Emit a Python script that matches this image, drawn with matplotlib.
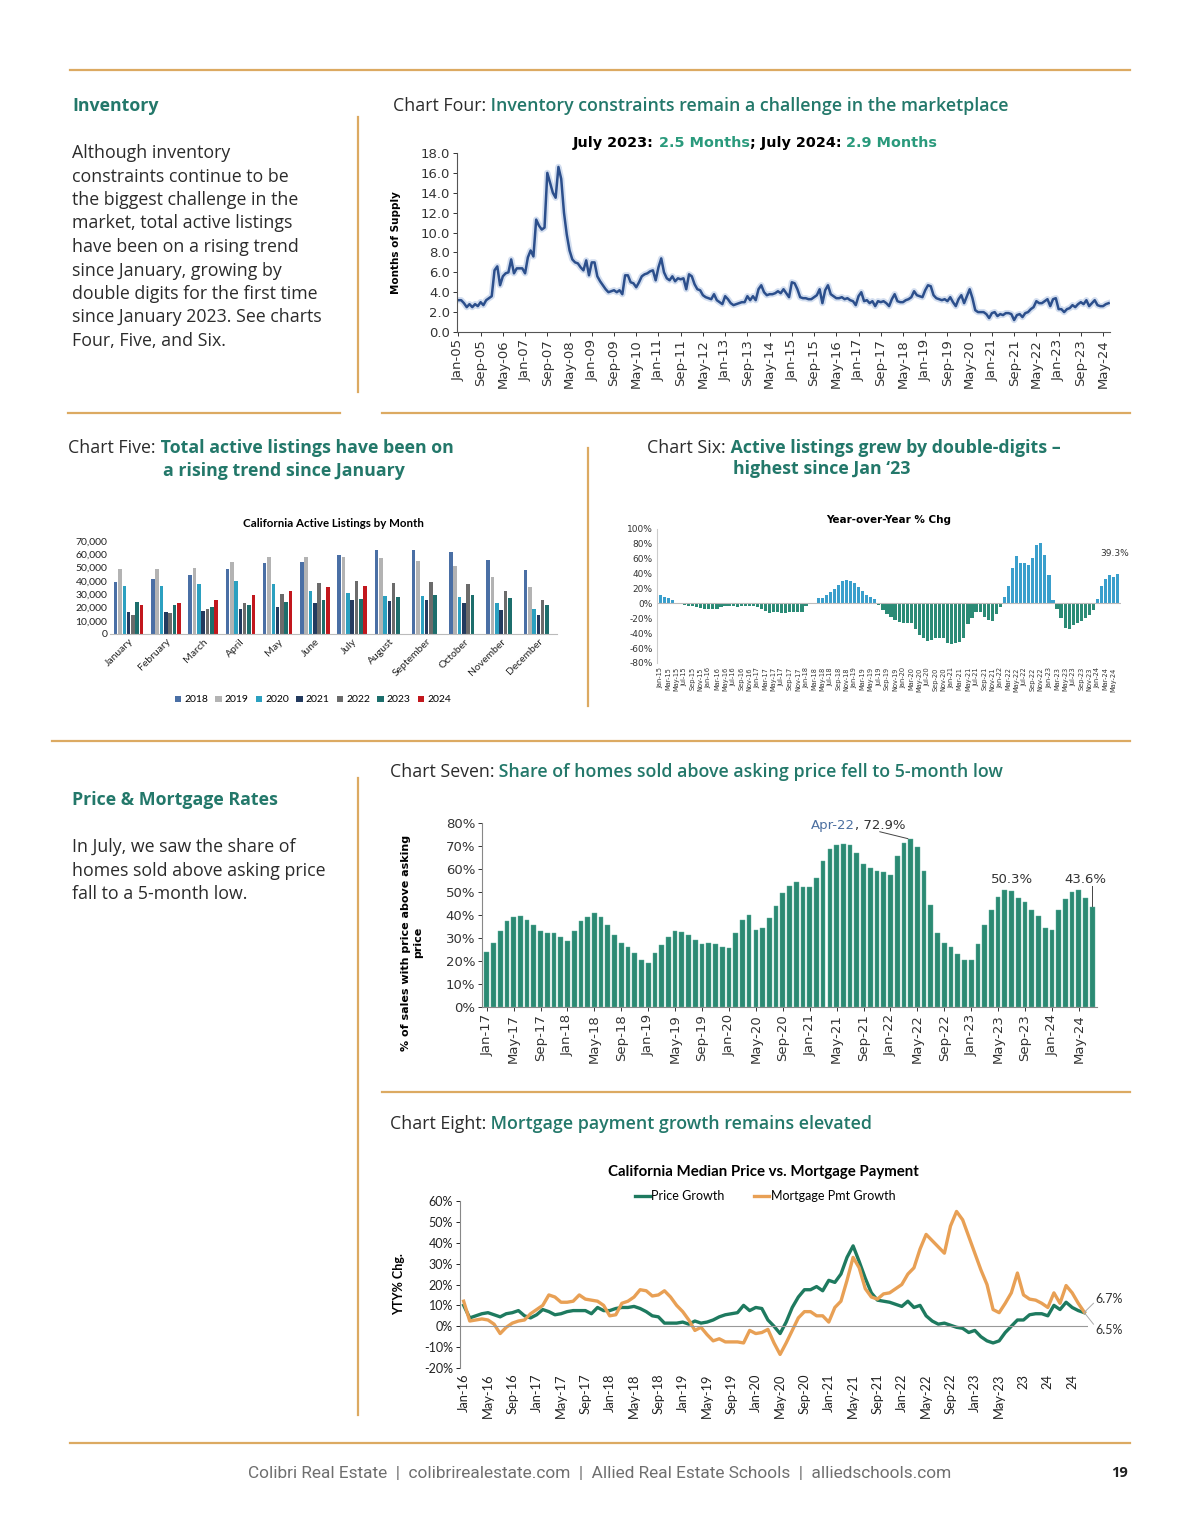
import matplotlib
matplotlib.use("Agg")
import matplotlib.pyplot as plt
import numpy as np
import pandas as pd
from matplotlib.lines import Line2D

W, H = 1200, 1535
TEAL = "#23786a"
GOLD = "#dcaa62"
INK = "#2b2b2b"
BODY = "Open Sans"
CHART = "DejaVu Sans"
CALI = "Lato"
FS = 12.8

# chart four: months of supply, Jan-05 .. Jul-24
supply = [
    3.2, 3.2, 2.9, 2.5, 2.8, 2.5, 2.8, 2.6, 3.0, 2.7, 3.2, 3.4,
    3.6, 6.2, 6.6, 4.7, 5.6, 5.9, 6.0, 7.3, 5.9, 6.4, 6.4, 6.4,
    5.9, 7.5, 8.2, 7.6, 11.3, 10.7, 10.3, 10.5, 16.0, 15.0, 14.0, 13.5,
    16.6, 15.4, 12.0, 9.8, 8.2, 7.3, 7.0, 6.9, 6.5, 6.2, 7.2, 5.7,
    7.0, 7.0, 5.6, 5.1, 4.7, 4.3, 4.0, 4.1, 4.2, 4.0, 4.2, 3.8,
    5.7, 5.7, 5.0, 4.9, 4.5, 5.0, 5.6, 5.8, 5.9, 6.1, 6.2, 5.2,
    6.5, 7.4, 6.0, 5.4, 5.2, 5.6, 5.1, 5.4, 5.3, 5.4, 4.3, 5.8,
    5.6, 4.8, 4.3, 4.2, 3.7, 3.5, 3.4, 3.3, 3.8, 3.2, 3.0, 2.8,
    3.6, 3.3, 2.9, 2.7, 2.8, 2.9, 3.0, 3.0, 3.6, 3.2, 3.6, 3.2,
    4.3, 4.7, 4.0, 3.7, 3.8, 3.8, 3.9, 4.1, 3.9, 4.3, 3.9, 3.5,
    5.0, 4.9, 4.3, 3.5, 3.4, 3.4, 3.3, 3.3, 3.5, 3.7, 4.3, 2.9,
    4.2, 4.7, 3.8, 3.6, 3.4, 3.4, 3.5, 3.3, 3.4, 3.2, 3.1, 2.7,
    3.6, 4.0, 3.1, 3.2, 2.9, 3.1, 2.6, 3.1, 3.0, 3.1, 2.9, 2.6,
    3.3, 3.8, 3.1, 3.0, 3.0, 3.2, 3.3, 3.5, 4.1, 3.7, 3.6, 3.5,
    4.2, 4.7, 4.6, 3.7, 3.4, 3.3, 3.2, 3.3, 3.1, 3.5, 3.0, 2.6,
    3.3, 3.7, 2.9, 3.6, 4.3, 3.4, 2.2, 2.0, 2.0, 2.0, 1.8, 1.4,
    1.9, 2.0, 1.6, 1.8, 1.7, 1.9, 1.9, 1.8, 1.2, 1.7, 1.8, 1.5,
    1.9, 2.0, 2.3, 2.5, 3.1, 2.9, 2.9, 3.1, 3.3, 2.6, 3.3, 3.4,
    2.3, 2.3, 2.0, 2.3, 2.4, 2.7, 2.5, 2.8, 3.0, 2.8, 3.2, 2.6,
    2.9, 3.2, 2.7, 2.6, 2.6, 2.8, 2.9,
]

# chart five: active listings by month
months = ["January", "February", "March", "April", "May", "June", "July",
          "August", "September", "October", "November", "December"]
years = ["2018", "2019", "2020", "2021", "2022", "2023", "2024"]
lst_2018 = [39000, 41500, 44500, 49000, 53500, 54500, 59500, 63000, 63000, 62000, 56000, 48000]
lst_2019 = [49000, 49000, 50000, 54000, 58000, 58000, 58000, 57000, 55000, 51000, 43000, 35500]
lst_2020 = [36000, 36500, 37500, 40000, 38000, 32000, 30500, 28500, 28500, 28000, 23000, 18500]
lst_2021 = [16500, 16500, 17500, 19000, 20500, 23000, 25500, 25000, 25500, 23000, 18000, 14500]
lst_2022 = [14500, 15500, 19000, 23500, 30000, 38500, 40000, 38500, 39000, 37500, 32000, 25500]
lst_2023 = [24000, 22000, 20000, 21500, 24000, 25500, 26000, 28000, 29000, 29000, 27000, 22000]
lst_2024 = [22000, 23500, 25500, 29000, 32500, 35000, 36500]
year_colors = ["#4a6fa5", "#b3b3b3", "#2ba0c0", "#233a5e", "#6b6b6b", "#1c6e6c", "#c2171d"]

# chart six: active listings YoY % change, Jan-15 .. Jul-24
yoy = [
    11, 8, 7, 4, 0, -1, -2, -3, -4, -5, -6, -8,
    -8, -7, -7, -5, -4, -3, -4, -5, -4, -3, -4, -4,
    -5, -8, -10, -13, -12, -11, -13, -13, -12, -12, -12, -12,
    -3, -1, 0, 7, 7, 12, 16, 19, 25, 30, 31, 30,
    27, 22, 17, 12, 9, 6, -2, -9, -14, -18, -22, -25,
    -26, -26, -26, -34, -42, -47, -50, -49, -47, -46, -47, -53,
    -54, -53, -52, -46, -28, -19, -12, -11, -18, -22, -23, -14,
    -5, 8, 24, 47, 64, 55, 54, 52, 61, 79, 81, 65,
    38, 4, -8, -20, -33, -34, -29, -26, -23, -20, -16, -9,
    6, 24, 33, 38, 36, 39.3,
]

# chart seven: share of sales above asking, Jan-17 .. Jul-24
above_ask = [
    24, 28, 33, 37.5, 39, 39.5, 38, 35.5, 33, 32, 32, 30.5,
    28.5, 33, 37.5, 39, 41, 39, 35.5, 31.5, 28, 26, 23.5, 20.5,
    19, 23.5, 27, 30.5, 33, 32.5, 31.5, 29, 27.5, 28, 27.5, 26,
    25.5, 32, 38, 40, 33.5, 34.5, 38.5, 44, 49.5, 52.5, 54.5, 52,
    52, 56, 63.5, 68.5, 70.5, 71, 70.5, 67, 62, 60.5, 59, 58.5,
    57.5, 65.5, 71.5, 72.9, 69.5, 59, 44.5, 32, 28, 26, 23, 20.5,
    20.5, 27.5, 35.5, 42, 48, 51, 50.3, 47.5, 45.5, 42, 39.5, 34.5,
    33.5, 42, 47, 50, 51, 47.5, 43.6,
]

# chart eight: price growth vs mortgage payment growth, Jan-16 .. Jul-24
price_growth = [
    10, 4, 5, 6, 6.5, 5.5, 4.5, 6, 6.5, 7.5, 5, 4,
    5.5, 8, 7, 5.5, 6, 7, 7.5, 7.5, 7.5, 6, 9, 7.5,
    7.5, 8.5, 9, 9, 9.5, 8.5, 7, 5, 4.5, 1.5, 1.5, 1.5,
    2, 1, 2.5, 1.5, 2, 3, 4.5, 5.5, 6, 6.5, 10, 7.5,
    9, 8.5, 3, 0, -3.5, 2, 9, 14, 17.5, 17.5, 19, 17,
    22, 21, 25, 33, 38.5, 31, 23, 16, 12.5, 12, 11.5, 10.5,
    9.5, 12, 9, 10, 5, 2.5, 1, 1.5, 0.5, -0.5, -1, -3,
    -2, -5, -7, -8, -7, -3, 0, 3, 3, 5.5, 6, 6,
    5, 10, 8, 11.5, 9, 7.5, 6.5,
]
mortgage_growth = [
    12, 2.5, 3, 3.5, 3, 1, -3.5, -0.5, 1.5, 2.5, 3, 6,
    8, 10, 15, 14, 11.5, 11.5, 12, 15, 13, 12.5, 12, 10,
    5, 5.5, 11, 12, 14, 17.5, 17, 14.5, 15, 17, 14, 10,
    7, 3, -2, -0.5, -4, -7, -6, -7.5, -7.5, -7.5, -8, -2,
    -3.5, -3, -1.5, -8, -13.5, -8, -2, 4, 7, 7, 5, 5,
    2, 9, 12, 22, 33, 28, 18, 14, 13, 15.5, 16, 18,
    20, 25, 28, 37, 44, 41, 38, 35, 48, 55, 51, 43,
    35, 27, 20, 8, 6.5, 11, 16, 25.5, 15, 13, 12.5, 11,
    9, 16, 11, 19.5, 16, 11, 6.7,
]
pm_ticks = ["Jan-16", "May-16", "Sep-16", "Jan-17", "May-17", "Sep-17", "Jan-18",
            "May-18", "Sep-18", "Jan-19", "May-19", "Sep-19", "Jan-20", "May-20",
            "Sep-20", "Jan-21", "May-21", "Sep-21", "Jan-22", "May-22", "Sep-22",
            "Jan-23", "May-23", "23", "24", "24"]

left_notes = ["Although inventory", "constraints continue to be",
              "the biggest challenge in the", "market, total active listings",
              "have been on a rising trend", "since January, growing by",
              "double digits for the first time", "since January 2023. See charts",
              "Four, Five, and Six."]
price_notes = ["In July, we saw the share of", "homes sold above asking price",
               "fall to a 5-month low."]


def mlabels(start, n):
    return list(pd.date_range(start, periods=n, freq="MS").strftime("%b-%y"))


def px_axes(l, t, r, b):
    return fig.add_axes([l / W, 1 - b / H, (r - l) / W, (b - t) / H])


def line(x0, y0, x1, y1):
    fig.add_artist(Line2D([x0 / W, x1 / W], [1 - y0 / H, 1 - y1 / H],
                          transform=fig.transFigure, color=GOLD, lw=1.6))


def rich(x, y, parts, size, family=BODY, center=False):
    r = fig.canvas.get_renderer()
    arts = []
    cx = x
    for txt, col, wt in parts:
        t = fig.text(cx / W, 1 - y / H, txt, color=col, fontsize=size,
                     fontweight=wt, family=family, va="center", ha="left")
        bb = t.get_window_extent(renderer=r)
        cx = bb.x1
        arts.append(t)
    if center:
        shift = (cx - x) / 2
        for t in arts:
            t.set_x(t.get_position()[0] - shift / W)


def text(x, y, s, **kw):
    fig.text(x / W, 1 - y / H, s, **kw)


fig = plt.figure(figsize=(12, 15.35), dpi=100)
fig.patch.set_facecolor("white")

# page rules
line(70, 70, 1130, 70)
line(358, 117, 358, 392)
line(68, 413, 340, 413)
line(382, 413, 1130, 413)
line(588, 448, 588, 706)
line(52, 741, 1130, 741)
line(358, 778, 358, 1415)
line(382, 1092, 1130, 1092)
line(70, 1443, 1130, 1443)

# left column text
text(72, 106, "Inventory", color=TEAL, fontsize=FS, fontweight="bold", family=BODY, va="center")
for i, s in enumerate(left_notes):
    text(72, 153 + i * 23.5, s, color=INK, fontsize=FS, family=BODY, va="center")
text(72, 800, "Price & Mortgage Rates", color=TEAL, fontsize=FS, fontweight="bold", family=BODY, va="center")
for i, s in enumerate(price_notes):
    text(72, 847 + i * 23.5, s, color=INK, fontsize=FS, family=BODY, va="center")

# chart headers
rich(393, 106, [("Chart Four:", INK, "normal"),
                (" Inventory constraints remain a challenge in the marketplace", TEAL, "semibold")], FS)
rich(68, 448, [("Chart Five:", INK, "normal"),
               (" Total active listings have been on", TEAL, "bold")], FS)
text(163, 471, "a rising trend since January", color=TEAL, fontsize=FS, fontweight="bold", family=BODY, va="center")
rich(647, 448, [("Chart Six:", INK, "normal"),
                (" Active listings grew by double-digits \u2013", TEAL, "bold")], FS)
text(733, 469, "highest since Jan \u201823", color=TEAL, fontsize=FS, fontweight="bold", family=BODY, va="center")
rich(390, 772, [("Chart Seven:", INK, "normal"),
                (" Share of homes sold above asking price fell to 5-month low", TEAL, "semibold")], FS)
rich(390, 1124, [("Chart Eight:", INK, "normal"),
                 (" Mortgage payment growth remains elevated", TEAL, "semibold")], FS)

# ---- chart four ----
ax4 = px_axes(457, 153, 1110, 332)
x4 = np.arange(len(supply))
ax4.plot(x4, supply, color="#9fb6dc", lw=4.5, alpha=0.45, solid_joinstyle="round")
ax4.plot(x4, supply, color="#2c4f8c", lw=1.8, solid_joinstyle="round")
ax4.set_ylim(0, 18)
ax4.set_xlim(-0.5, len(supply) - 0.5)
ax4.set_yticks(np.arange(0, 18.1, 2))
ax4.set_yticklabels([f"{v:.1f}" for v in np.arange(0, 18.1, 2)], fontsize=9.5, family=CHART)
lab4 = mlabels("2005-01", len(supply))
ax4.set_xticks(x4[::8])
ax4.set_xticklabels(lab4[::8], rotation=90, fontsize=9.5, family=CHART)
for s in ["top", "right"]:
    ax4.spines[s].set_visible(False)
for s in ["left", "bottom"]:
    ax4.spines[s].set_color("#555555")
    ax4.spines[s].set_linewidth(0.8)
ax4.tick_params(length=3, width=0.7, colors="#333333", pad=2)
ax4.set_ylabel("Months of Supply", fontsize=7.5, fontweight="bold", family=CHART, labelpad=4)
ax4.yaxis.set_label_coords(-0.085, 0.5)
rich(755, 143, [("July 2023:", "black", "bold"), (" 2.5 Months", "#2a9a7c", "bold"),
                ("; July 2024:", "black", "bold"), (" 2.9 Months", "#2a9a7c", "bold")],
     10.4, family=CHART, center=True)

# ---- chart five ----
ax5 = px_axes(110, 541, 557, 634)
series5 = [lst_2018, lst_2019, lst_2020, lst_2021, lst_2022, lst_2023, lst_2024]
for j, (vals, col, yr) in enumerate(zip(series5, year_colors, years)):
    xs = np.arange(len(vals)) + (j - 3) * 0.116
    ax5.bar(xs, vals, width=0.095, color=col, label=yr)
ax5.set_xlim(-0.5, 11.5)
ax5.set_ylim(0, 70000)
ax5.set_yticks(np.arange(0, 70001, 10000))
ax5.set_yticklabels([f"{v:,}" for v in range(0, 70001, 10000)], fontsize=7.5, family=CALI)
ax5.set_xticks(np.arange(12))
ax5.set_xticklabels(months, rotation=45, ha="right", rotation_mode="anchor", fontsize=7.5, family=CALI)
for s in ["top", "right", "left"]:
    ax5.spines[s].set_visible(False)
ax5.spines["bottom"].set_color("#bbbbbb")
ax5.tick_params(length=0, pad=2, colors="#222222")
ax5.set_title("California Active Listings by Month", fontsize=8.3, fontweight="bold",
              family=CALI, pad=10)
fig.legend(*ax5.get_legend_handles_labels(), loc="center", bbox_to_anchor=(313 / W, 1 - 700 / H),
           ncol=7, frameon=False, handlelength=0.6, handleheight=0.6,
           handletextpad=0.3, columnspacing=0.7, prop={"family": CALI, "size": 7.5})

# ---- chart six ----
ax6 = px_axes(657, 529, 1121, 663)
x6 = np.arange(len(yoy))
cols6 = ["#3a9fcc" if v >= 0 else "#2b8b76" for v in yoy]
ax6.bar(x6, yoy, width=0.78, color=cols6)
ax6.axhline(0, color="#bbbbbb", lw=0.8)
ax6.set_ylim(-80, 100)
ax6.set_xlim(-0.8, len(yoy) - 0.2)
ax6.set_yticks(np.arange(-80, 101, 20))
ax6.set_yticklabels([f"{v}%" for v in range(-80, 101, 20)], fontsize=6.5, family=CHART)
lab6 = mlabels("2015-01", len(yoy))
ax6.set_xticks(x6[::2])
ax6.set_xticklabels(lab6[::2], rotation=90, fontsize=4.8, family=CHART)
for s in ["top", "right", "bottom"]:
    ax6.spines[s].set_visible(False)
ax6.spines["left"].set_color("#cccccc")
ax6.tick_params(axis="y", length=0, pad=3, colors="#333333")
ax6.tick_params(axis="x", length=0, pad=3, colors="#333333")
ax6.set_title("Year-over-Year % Chg", fontsize=7.5, fontweight="bold", family=CHART, pad=4)
ax6.annotate(f"{yoy[-1]}%", (x6[-1], yoy[-1]), xytext=(-2, 13), textcoords="offset points",
             ha="center", fontsize=6.5, family=CHART, color="#333333")

# ---- chart seven ----
ax7 = px_axes(482, 823, 1097, 1007)
x7 = np.arange(len(above_ask))
ax7.bar(x7, above_ask, width=0.7, color="#2b8a73", edgecolor="#5fb09c", linewidth=0.3)
ax7.set_ylim(0, 80)
ax7.set_xlim(-0.7, len(above_ask) - 0.3)
ax7.set_yticks(np.arange(0, 81, 10))
ax7.set_yticklabels([f"{v}%" for v in range(0, 81, 10)], fontsize=9.5, family=CHART)
lab7 = mlabels("2017-01", len(above_ask))
ax7.set_xticks(x7[::4])
ax7.set_xticklabels(lab7[::4], rotation=90, fontsize=9.5, family=CHART)
for s in ["top", "right"]:
    ax7.spines[s].set_visible(False)
for s in ["left", "bottom"]:
    ax7.spines[s].set_color("#888888")
    ax7.spines[s].set_linewidth(0.8)
ax7.tick_params(length=3, width=0.7, colors="#333333", pad=2)
ax7.set_ylabel("% of sales with price above asking\nprice", fontsize=8, fontweight="bold",
               family=CHART, linespacing=1.3)
ax7.yaxis.set_label_coords(-0.095, 0.35)
i_apr = 63
ax7.annotate("", xy=(i_apr, above_ask[i_apr]), xytext=(i_apr - 5, 76.5),
             arrowprops=dict(arrowstyle="-", color="#444444", lw=0.7))
ax7.text(i_apr - 11.5, 79, "Apr-22", color="#4b6fa0", fontsize=9.5, family=CHART, va="center", ha="center")
ax7.text(i_apr - 4.5, 79, ", 72.9%", color="#333333", fontsize=9.5, family=CHART, va="center", ha="center")
ax7.text(78, 55.5, "50.3%", color="#333333", fontsize=9.5, family=CHART, va="center", ha="center")
ax7.text(len(above_ask) - 2, 55.5, "43.6%", color="#333333", fontsize=9.5, family=CHART, va="center", ha="center")
ax7.plot([len(above_ask) - 1, len(above_ask) - 1], [above_ask[-1] + 0.5, 52.5], color="#444444", lw=0.7)

# ---- chart eight ----
ax8 = px_axes(460, 1201, 1088, 1368)
x8 = np.arange(len(price_growth))
ax8.plot(x8, price_growth, color="#1e7a5f", lw=2.4, label="Price Growth")
ax8.plot(x8, mortgage_growth, color="#e8a055", lw=2.4, label="Mortgage Pmt Growth")
ax8.axhline(0, color="#999999", lw=0.8)
ax8.set_ylim(-20, 60)
ax8.set_xlim(-0.6, len(price_growth) - 0.4)
ax8.set_yticks(np.arange(-20, 61, 10))
ax8.set_yticklabels([f"{v}%" for v in range(-20, 61, 10)], fontsize=9, family=CALI)
ax8.set_xticks(x8[::4])
ax8.set_xticklabels(pm_ticks, rotation=90, fontsize=9.3, family=CALI)
for s in ["top", "right", "bottom"]:
    ax8.spines[s].set_visible(False)
ax8.spines["left"].set_color("#888888")
ax8.spines["left"].set_linewidth(0.8)
ax8.tick_params(axis="y", length=3, width=0.7, colors="#222222", pad=2)
ax8.tick_params(axis="x", length=0, colors="#222222", pad=4)
ax8.set_ylabel("YTY% Chg.", fontsize=9, fontweight="bold", family=CALI)
ax8.yaxis.set_label_coords(-0.088, 0.5)
text(763, 1172, "California Median Price vs. Mortgage Payment", fontsize=10.8, fontweight="bold",
     family=CALI, ha="center", va="center")
fig.legend(*ax8.get_legend_handles_labels(), loc="center", bbox_to_anchor=(765 / W, 1 - 1196 / H),
           ncol=2, frameon=False, handlelength=1.2, handletextpad=0.1, columnspacing=2.4,
           prop={"family": CALI, "size": 9})
last = len(price_growth) - 1
ax8.plot([last, last + 1.5], [mortgage_growth[-1], 11], color="#aaaaaa", lw=0.7, clip_on=False)
ax8.plot([last, last + 1.5], [price_growth[-1], 1], color="#aaaaaa", lw=0.7, clip_on=False)
ax8.text(last + 1.8, 13, "6.7%", fontsize=9, family=CALI, color="#333333", va="center")
ax8.text(last + 1.8, -2, "6.5%", fontsize=9, family=CALI, color="#333333", va="center")

# footer
text(600, 1474, "Colibri Real Estate  |  colibrirealestate.com  |  Allied Real Estate Schools  |  alliedschools.com",
     fontsize=12.4, color="#6f6f6f", family="Roboto", fontweight="normal", ha="center", va="center")
text(1120, 1473, "19", fontsize=10.5, fontweight="bold", color="#222222", family=BODY, ha="center", va="center")

fig.savefig("out.png", dpi=100, facecolor="white")
